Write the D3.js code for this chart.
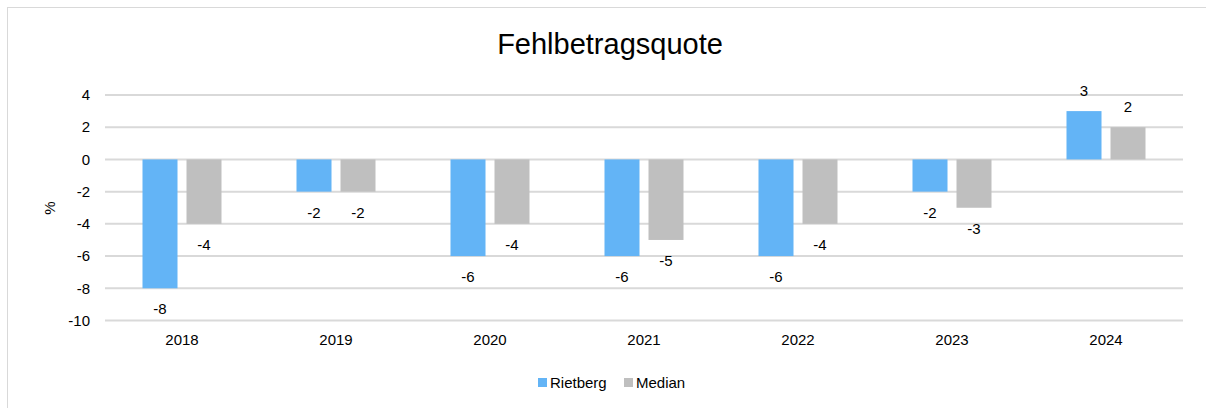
<!DOCTYPE html>
<html>
<head>
<meta charset="utf-8">
<script src="https://cdn.jsdelivr.net/npm/d3@7"></script>
<style>
  body { margin: 0; background: #fff; }
  text { font-family: "Liberation Sans", Arial, sans-serif; fill: #000; }
</style>
</head>
<body>
<div id="container"></div>
<script>
// data
const years = ["2018", "2019", "2020", "2021", "2022", "2023", "2024"]
const rietberg = [-8, -2, -6, -6, -6, -2, 3]
const median = [-4, -2, -4, -5, -4, -3, 2]
const seriesNames = ["Rietberg", "Median"]
const yTicks = [4, 2, 0, -2, -4, -6, -8, -10]

const width = 1206, height = 408
const colours = ["#63b4f6", "#bfbfbf"]

const svg = d3.select("#container").append("svg")
  .attr("width", width)
  .attr("height", height)

// outer frame of the chart area
svg.append("rect")
  .attr("x", 7.5).attr("y", 7.5)
  .attr("width", width + 20).attr("height", height + 20)
  .attr("fill", "none").attr("stroke", "#d9d9d9")

const plot = { left: 105, right: 1183, top: 95, bottom: 320.5 }

const x = d3.scaleBand().domain(years).range([plot.left, plot.right])
const y = d3.scaleLinear().domain([-10, 4]).range([plot.bottom, plot.top])

// gridlines
svg.append("g")
  .selectAll("line")
  .data(yTicks)
  .enter()
  .append("line")
    .attr("x1", plot.left).attr("x2", plot.right)
    .attr("y1", d => y(d)).attr("y2", d => y(d))
    .attr("stroke", "#d9d9d9").attr("stroke-width", 2)

// y tick labels
svg.append("g")
  .selectAll("text")
  .data(yTicks)
  .enter()
  .append("text")
    .attr("x", 90)
    .attr("y", d => y(d))
    .attr("dy", "0.35em")
    .attr("text-anchor", "end")
    .style("font-size", "15px")
    .text(d => d)

// x labels
svg.append("g")
  .selectAll("text")
  .data(years)
  .enter()
  .append("text")
    .attr("x", d => x(d) + x.bandwidth() / 2)
    .attr("y", 345)
    .attr("text-anchor", "middle")
    .style("font-size", "15px")
    .text(d => d)

// bars, two per year
const barW = 35, gap = 9
const rows = years.map((yr, i) => [
  { year: yr, s: 0, v: rietberg[i] },
  { year: yr, s: 1, v: median[i] }
]).flat()

const barX = d => x(d.year) + x.bandwidth() / 2 - barW - gap / 2 + d.s * (barW + gap)

svg.append("g")
  .selectAll("rect")
  .data(rows)
  .enter()
  .append("rect")
    .attr("x", barX)
    .attr("width", barW)
    .attr("y", d => Math.min(y(d.v), y(0)))
    .attr("height", d => Math.abs(y(d.v) - y(0)))
    .attr("fill", d => colours[d.s])

// value labels, outside the bar end
svg.append("g")
  .selectAll("text")
  .data(rows)
  .enter()
  .append("text")
    .attr("x", d => barX(d) + barW / 2)
    .attr("y", d => d.v < 0 ? y(d.v) + 26 : y(d.v) - 15)
    .attr("text-anchor", "middle")
    .style("font-size", "15px")
    .text(d => d.v)

// title
svg.append("text")
  .attr("x", 610).attr("y", 54)
  .attr("text-anchor", "middle")
  .style("font-size", "29px")
  .text("Fehlbetragsquote")

// y axis title
svg.append("text")
  .attr("transform", "translate(55,208) rotate(-90)")
  .attr("text-anchor", "middle")
  .style("font-size", "15px")
  .text("%")

// legend
const legend = svg.append("g")
  .selectAll("g")
  .data(seriesNames)
  .enter()
  .append("g")
    .attr("transform", (d, i) => `translate(${538 + i * 86},378)`)
legend.append("rect")
  .attr("width", 9).attr("height", 9)
  .attr("fill", (d, i) => colours[i])
legend.append("text")
  .attr("x", 12).attr("y", 9.5)
  .style("font-size", "15px")
  .text(d => d)
</script>
</body>
</html>
